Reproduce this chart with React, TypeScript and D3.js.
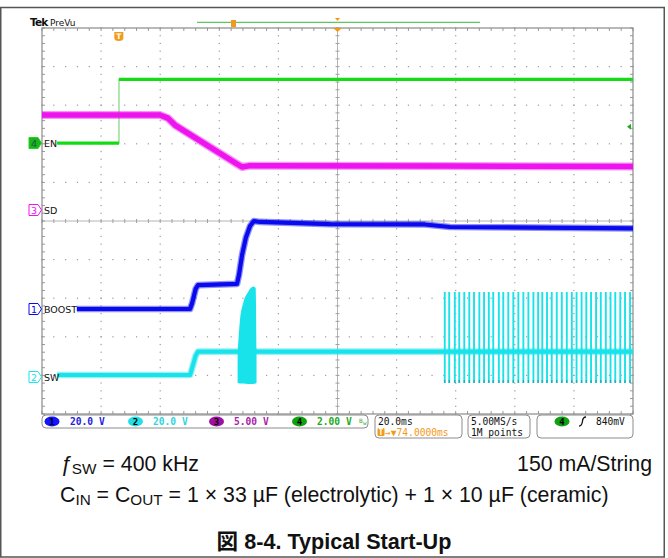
import React from 'react';
import * as d3 from 'd3';

const W = 668;
const H = 558;

// ---- axes (time in ms, trigger at 0; vertical in divisions) ----
const timeDomain = [-26, 174];
const divDomain = [-5, 5];
const timePerDivLabel = '20.0ms';

// ---- channel settings ----
const chNames = ['1', '2', '3', '4'];
const chLabels = ['BOOST', 'SW', 'SD', 'EN'];
const chVoltsPerDiv = [20, 20, 5, 2];
const chScaleLabels = ['20.0 V', '20.0 V', '5.00 V', '2.00 V'];
const chOffsetDiv = [-2.28, -4.04, 0.285, 2.02];
const chColors = ['#0a0aee', '#19e3ea', '#ee14ee', '#14dc14'];
const chBadge = ['#1414ff', '#22e0e6', '#a010a0', '#10a010'];

// ---- traces (ms, V) ----
const enTime = [-20.9, 0.05, 0.05, 174];
const enVolt = [0, 0, 3.3, 3.3];

const sdTime = [-26, 13.9, 16.6, 19.0, 40.0, 41.7, 44, 110, 174];
const sdVolt = [12.3, 12.3, 11.9, 11.0, 5.96, 5.57, 5.72, 5.7, 5.65];

const boostTime = [-14.2, 24.1, 24.8, 26.0, 26.8, 40.0, 40.7, 41.7, 43.0, 44.4, 45.7, 47.8, 71.5, 103.6, 112.1, 174];
const boostVolt = [0, 0, 3, 10.4, 12.4, 13.0, 18, 28, 37, 43, 45.6, 45.1, 44.0, 43.8, 42.5, 41.8];

const swTime = [-20.9, 24.1, 24.6, 26.0, 26.8, 174];
const swVolt = [1.0, 1.0, 3.5, 11, 13.1, 13.1];

const burstTime = [40.2, 41.0, 42.1, 43.8, 45.5, 46.3, 46.6];
const burstTop = [13.1, 29.5, 38.3, 44.2, 46.8, 46.1, 13.1];
const burstBottom = [-3.0, -3.4, -3.4, -3.6, -3.6, -3.4, -3.0];

const pulseTime = [110.3, 111.8, 113.7, 115.2, 116.9, 118.6, 120.2, 122.0, 123.6, 125.2, 126.7, 128.6, 130.1, 131.8, 133.5, 135.2, 136.9, 138.6, 140.3, 141.9, 143.3, 144.9, 146.5, 148.2, 149.9, 151.6, 153.3, 154.9, 156.6, 158.2, 159.8, 161.5, 163.1, 164.8, 166.4, 168.0, 169.7, 171.3, 173.0];
const pulseTop = 44.0;
const pulseBottom = -3.1;

// ---- trigger / acquisition ----
const triggerLevelV = 0.84;
const triggerCh = 3; // index of channel 4
const triggerDelayLabel = '74.0000ms';
const sampleRateLabel = '5.00MS/s';
const recordLabel = '1M points';
const trigLevelLabel = '840mV';

// ---- caption ----
const capLine1Right = '150 mA/String';
const titleText = '図 8-4. Typical Start-Up';

const x = d3.scaleLinear().domain(timeDomain).range([42, 633]);
const yDiv = d3.scaleLinear().domain(divDomain).range([414, 28]);
const yCh = (ch: number) => (v: number) => yDiv(chOffsetDiv[ch] + v / chVoltsPerDiv[ch]);

function tracePath(ch: number, ts: number[], vs: number[]) {
  const yy = yCh(ch);
  const line = d3.line<number>().x((_, i) => x(ts[i])).y((_, i) => yy(vs[i]));
  return line(ts.map((_, i) => i)) || '';
}

function Graticule() {
  const [x0, x1] = x.range();
  const [y1, y0] = yDiv.range();
  const xMaj = d3.range(0, 11).map((i) => x0 + ((x1 - x0) * i) / 10);
  const yMaj = d3.range(0, 11).map((i) => y0 + ((y1 - y0) * i) / 10);
  const xMin = d3.range(0, 51).map((i) => x0 + ((x1 - x0) * i) / 50);
  const yMin = d3.range(0, 51).map((i) => y0 + ((y1 - y0) * i) / 50);
  const cx = xMaj[5];
  const cy = yMaj[5];
  const els: React.ReactNode[] = [];
  xMaj.slice(1, 10).forEach((gx, i) => {
    if (i === 4) return;
    yMin.forEach((gy, j) => els.push(<rect key={`vd${i}-${j}`} x={gx - 0.6} y={gy - 0.6} width={1.2} height={1.2} fill="#9a9a9a" />));
  });
  yMaj.slice(1, 10).forEach((gy, i) => {
    if (i === 4) return;
    xMin.forEach((gx, j) => els.push(<rect key={`hd${i}-${j}`} x={gx - 0.6} y={gy - 0.6} width={1.2} height={1.2} fill="#9a9a9a" />));
  });
  els.push(<line key="cxl" x1={x0} x2={x1} y1={cy} y2={cy} stroke="#b4b4b4" strokeWidth={1} />);
  els.push(<line key="cyl" x1={cx} x2={cx} y1={y0} y2={y1} stroke="#b4b4b4" strokeWidth={1} />);
  xMin.forEach((gx, j) => els.push(<line key={`ct${j}`} x1={gx} x2={gx} y1={cy - 2} y2={cy + 2} stroke="#a0a0a0" strokeWidth={1} />));
  yMin.forEach((gy, j) => els.push(<line key={`cv${j}`} x1={cx - 2} x2={cx + 2} y1={gy} y2={gy} stroke="#a0a0a0" strokeWidth={1} />));
  xMin.forEach((gx, j) => {
    els.push(<line key={`bt${j}`} x1={gx} x2={gx} y1={y0} y2={y0 + 3} stroke="#999" strokeWidth={1} />);
    els.push(<line key={`bb${j}`} x1={gx} x2={gx} y1={y1} y2={y1 - 3} stroke="#999" strokeWidth={1} />);
  });
  yMin.forEach((gy, j) => {
    els.push(<line key={`bl${j}`} x1={x0} x2={x0 + 3} y1={gy} y2={gy} stroke="#999" strokeWidth={1} />);
    els.push(<line key={`br${j}`} x1={x1} x2={x1 - 3} y1={gy} y2={gy} stroke="#999" strokeWidth={1} />);
  });
  els.push(<rect key="border" x={x0} y={y0} width={x1 - x0} height={y1 - y0} fill="none" stroke="#8a8a8a" strokeWidth={1.2} />);
  return <g>{els}</g>;
}

function Trace({ ch, ts, vs, width }: { ch: number; ts: number[]; vs: number[]; width: number }) {
  const d = tracePath(ch, ts, vs);
  return (
    <g fill="none" strokeLinejoin="round">
      <path d={d} stroke={chColors[ch]} strokeOpacity={0.45} strokeWidth={width + 2.5} />
      <path d={d} stroke={chColors[ch]} strokeWidth={width} />
    </g>
  );
}

function EnTrace() {
  const ch = 3;
  const yy = yCh(ch);
  const d = tracePath(ch, enTime, enVolt);
  const segs: React.ReactNode[] = [];
  for (let i = 0; i < enTime.length - 1; i++) {
    if (enVolt[i] === enVolt[i + 1]) {
      segs.push(
        <line key={i} x1={x(enTime[i])} x2={x(enTime[i + 1])} y1={yy(enVolt[i])} y2={yy(enVolt[i])} stroke={chColors[ch]} strokeWidth={3.2} />
      );
    }
  }
  return (
    <g>
      <path d={d} fill="none" stroke="#7bd67b" strokeWidth={1.2} />
      {segs}
    </g>
  );
}

function SwTrace() {
  const ch = 1;
  const yy = yCh(ch);
  const area = d3
    .area<number>()
    .x((i) => x(burstTime[i]))
    .y0((i) => yy(burstBottom[i]))
    .y1((i) => yy(burstTop[i]))
    .curve(d3.curveMonotoneX);
  return (
    <g>
      <Trace ch={ch} ts={swTime} vs={swVolt} width={4.2} />
      <path d={area(burstTime.map((_, i) => i)) || ''} fill={chColors[ch]} />
      {pulseTime.map((t, i) => (
        <g key={i}>
          <line x1={x(t)} x2={x(t)} y1={yy(pulseTop)} y2={yy(pulseBottom)} stroke={chColors[ch]} strokeWidth={1.9} />
          <line x1={x(t)} x2={x(t)} y1={yy(pulseBottom + 1.5)} y2={yy(pulseBottom)} stroke="#2aa6aa" strokeWidth={1.2} />
        </g>
      ))}
    </g>
  );
}

function ChannelTag({ ch }: { ch: number }) {
  const y = yCh(ch)(0);
  const filled = ch === 3;
  const p = `M29,${y - 5.5} H38 L41.5,${y} L38,${y + 5.5} H29 Z`;
  return (
    <g>
      <path d={p} fill={filled ? '#22b022' : '#fff'} stroke={chColors[ch]} strokeWidth={1} />
      <text x={34} y={y + 3.6} fontSize={9.5} textAnchor="middle" fill={filled ? '#063' : chColors[ch]} fontFamily="DejaVu Sans">
        {chNames[ch]}
      </text>
      <text x={44} y={y + 3.6} fontSize={9.5} fill="#111" fontFamily="DejaVu Sans">
        {chLabels[ch]}
      </text>
    </g>
  );
}

function Box({ x0, x1, y0, y1 }: { x0: number; x1: number; y0: number; y1: number }) {
  return <rect x={x0} y={y0} width={x1 - x0} height={y1 - y0} rx={4} ry={4} fill="#fff" stroke="#8c8c8c" strokeWidth={1} />;
}

function Readout() {
  const mono = 'DejaVu Sans Mono';
  const badgeX = [52, 135.5, 216.5, 299.5];
  const labelX = [70, 153, 234, 317];
  const labelColors = ['#2222dd', '#33d5dd', '#aa22aa', '#22aa22'];
  return (
    <g fontFamily={mono} fontSize={9.6}>
      <Box x0={42} x1={368} y0={415} y1={428} />
      {chNames.map((n, i) => (
        <g key={n}>
          <ellipse cx={badgeX[i]} cy={421.5} rx={7.5} ry={5} fill={chBadge[i]} />
          <text x={badgeX[i]} y={425} textAnchor="middle" fill="#000" fontWeight="bold" fontSize={9}>
            {n}
          </text>
          <text x={labelX[i]} y={425} fill={labelColors[i]} fontWeight="bold">
            {chScaleLabels[i]}
          </text>
        </g>
      ))}
      <text x={359} y={423} fill="#33aa33" fontSize={6}>B</text>
      <text x={363} y={425} fill="#33aa33" fontSize={6}>w</text>
      <Box x0={375} x1={462} y0={415} y1={438} />
      <text x={378} y={425} fill="#111">{timePerDivLabel}</text>
      <rect x={377.5} y={428} width={7} height={8} rx={1} fill="#f29a1b" />
      <text x={381} y={435} fill="#fff" fontSize={8} textAnchor="middle" fontWeight="bold">T</text>
      <text x={385} y={436} fill="#f29a1b">{'→▼' + triggerDelayLabel}</text>
      <Box x0={468} x1={530} y0={415} y1={438} />
      <text x={471} y={425} fill="#111">{sampleRateLabel}</text>
      <text x={471} y={436} fill="#111">{recordLabel}</text>
      <Box x0={537} x1={633} y0={415} y1={438} />
      <ellipse cx={562} cy={421.5} rx={7.5} ry={5} fill={chBadge[3]} />
      <text x={562} y={425} textAnchor="middle" fill="#000" fontWeight="bold" fontSize={9}>4</text>
      <path d="M579,426 Q582,426 582.5,421 Q583,417 586,417" fill="none" stroke="#111" strokeWidth={1.3} />
      <text x={596} y={425} fill="#111">{trigLevelLabel}</text>
    </g>
  );
}

function Header() {
  const tx = x(0);
  const cx = x(74);
  const trigY = yCh(triggerCh)(triggerLevelV);
  return (
    <g>
      <text x={30} y={26} fontFamily="DejaVu Sans" fontWeight="bold" fontSize={10.5} letterSpacing={-0.8} fill="#111">Tek</text>
      <text x={50} y={25.5} fontFamily="DejaVu Sans" fontSize={9} fill="#111">PreVu</text>
      <line x1={197} x2={480} y1={22.3} y2={22.3} stroke="#5ec85e" strokeWidth={1.2} />
      <rect x={231} y={20} width={5} height={7} fill="#f29a1b" />
      <path d={`M${cx - 2.5},18 L${cx + 2.5},18 L${cx},21 Z`} fill="#f29a1b" />
      <path d={`M${cx - 4.5},28 L${cx + 4.5},28 L${cx},32 Z`} fill="#f29a1b" />
      <path d={`M${tx - 4.5},32 H${tx + 4.5} V38 Q${tx + 4.5},41 ${tx},41 Q${tx - 4.5},41 ${tx - 4.5},38 Z`} fill="#f29a1b" />
      <text x={tx} y={39} fontSize={7.5} fontWeight="bold" textAnchor="middle" fill="#fff" fontFamily="DejaVu Sans">T</text>
      <path d={`M627,${trigY} L631,${trigY - 3} L631,${trigY + 3} Z`} fill="#22aa22" />
    </g>
  );
}

function Caption() {
  const f = 'Liberation Sans, Arial, sans-serif';
  const fs = 21.3;
  const sub = 15.3;
  return (
    <g fontFamily={f} fill="#111">
      <text x={60} y={471} fontSize={fs}>
        <tspan fontStyle="italic">ƒ</tspan>
        <tspan fontSize={sub} dy={3}>SW</tspan>
        <tspan dy={-3}> = 400 kHz</tspan>
      </text>
      <text x={652} y={471} fontSize={fs} textAnchor="end">{capLine1Right}</text>
      <text x={60} y={502} fontSize={fs}>
        <tspan>C</tspan>
        <tspan fontSize={sub} dy={3}>IN</tspan>
        <tspan dy={-3}> = C</tspan>
        <tspan fontSize={sub} dy={3}>OUT</tspan>
        <tspan dy={-3}> = 1 × 33 µF (electrolytic) + 1 × 10 µF (ceramic)</tspan>
      </text>
      <text x={334} y={549} fontSize={21.6} fontWeight="bold" textAnchor="middle" fontFamily="Liberation Sans, Noto Sans CJK JP, sans-serif">
        {titleText}
      </text>
    </g>
  );
}

export default function App() {
  return (
    <svg width={W} height={H} viewBox={`0 0 ${W} ${H}`} style={{ position: 'absolute', left: 0, top: 0, background: '#fff' }}>
      <rect x={0} y={0} width={W} height={H} fill="#fff" />
      <rect x={0.75} y={7.5} width={663.5} height={H - 8.5} fill="none" stroke="#555" strokeWidth={1.5} />
      <Graticule />
      <Header />
      <EnTrace />
      <Trace ch={2} ts={sdTime} vs={sdVolt} width={5.5} />
      <Trace ch={0} ts={boostTime} vs={boostVolt} width={4.2} />
      <SwTrace />
      {[3, 2, 0, 1].map((c) => (
        <ChannelTag key={c} ch={c} />
      ))}
      <Readout />
      <Caption />
    </svg>
  );
}
